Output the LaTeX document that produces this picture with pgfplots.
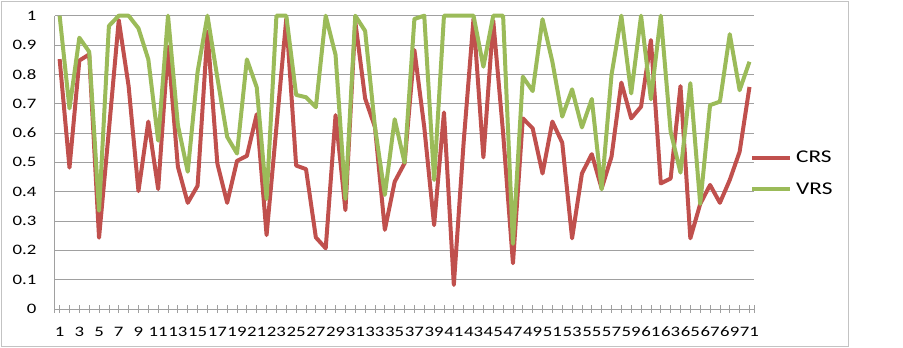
\documentclass[border=0pt]{standalone}
\usepackage{pgfplots}
\pgfplotsset{compat=1.18}
\usepackage{pgfplotstable}
\usepackage{fontspec}
\setmainfont{Carlito}[FakeStretch=1.3]
\definecolor{crs}{HTML}{C0504D}
\definecolor{vrs}{HTML}{9BBB59}
\definecolor{gridc}{RGB}{160,160,160}
\definecolor{framec}{RGB}{195,195,195}

\pgfplotstableread{
x y
1 0.852
2 0.482
3 0.847
4 0.868
5 0.243
6 0.61
7 0.985
8 0.76
9 0.402
10 0.639
11 0.409
12 0.894
13 0.485
14 0.362
15 0.42
16 0.945
17 0.497
18 0.362
19 0.505
20 0.522
21 0.664
22 0.252
23 0.62
24 0.99
25 0.489
26 0.477
27 0.244
28 0.207
29 0.661
30 0.337
31 0.98
32 0.718
33 0.62
34 0.27
35 0.434
36 0.497
37 0.883
38 0.62
39 0.286
40 0.67
41 0.082
42 0.57
43 0.99
44 0.517
45 0.983
46 0.6
47 0.156
48 0.65
49 0.616
50 0.462
51 0.639
52 0.567
53 0.241
54 0.462
55 0.528
56 0.411
57 0.519
58 0.772
59 0.65
60 0.69
61 0.917
62 0.428
63 0.445
64 0.76
65 0.241
66 0.358
67 0.423
68 0.362
69 0.44
70 0.536
71 0.757
}\crsdata

\pgfplotstableread{
x y
1 1.0
2 0.684
3 0.925
4 0.877
5 0.335
6 0.965
7 1.0
8 1.0
9 0.957
10 0.851
11 0.574
12 1.0
13 0.627
14 0.468
15 0.809
16 1.0
17 0.79
18 0.587
19 0.53
20 0.851
21 0.756
22 0.375
23 1.0
24 1.0
25 0.73
26 0.722
27 0.688
28 1.0
29 0.866
30 0.375
31 1.0
32 0.948
33 0.62
34 0.389
35 0.647
36 0.499
37 0.989
38 1.0
39 0.44
40 1.0
41 1.0
42 1.0
43 1.0
44 0.826
45 1.0
46 1.0
47 0.222
48 0.792
49 0.743
50 0.988
51 0.843
52 0.656
53 0.749
54 0.619
55 0.716
56 0.408
57 0.798
58 1.0
59 0.735
60 1.0
61 0.715
62 1.0
63 0.605
64 0.465
65 0.77
66 0.358
67 0.695
68 0.707
69 0.937
70 0.746
71 0.843
}\vrsdata

\begin{document}
\begin{tikzpicture}
\useasboundingbox (0bp,0bp) rectangle (903bp,348bp);
\draw[framec, line width=1bp] (1.5bp,1.5bp) rectangle (848.5bp,346.5bp);
\begin{axis}[
  at={(54.7bp,39bp)}, anchor=south west,
  scale only axis, width=699.7bp, height=293.3bp,
  xmin=0.5, xmax=71.5, ymin=0, ymax=1,
  clip=false,
  axis x line*=bottom, axis y line*=left,
  axis line style={gridc, line width=0.8bp, -},
  ytick={0,0.1,0.2,0.3,0.4,0.5,0.6,0.7,0.8,0.9,1},
  yticklabels={0,0.1,0.2,0.3,0.4,0.5,0.6,0.7,0.8,0.9,1},
  ymajorgrids, grid style={gridc, line width=0.8bp},
  xtick={1,3,...,71},
  xticklabels={1,3,5,7,9,11,13,15,17,19,21,23,25,27,29,31,33,35,37,39,41,43,45,47,49,51,53,55,57,59,61,63,65,67,69,71},
  minor xtick={0.5,2,4,...,70,71.5},
  tick align=inside,
  major tick length=8bp, minor tick length=8bp,
  tick style={gridc, line width=0.8bp, yshift=-4bp},
  ytick style={draw=none},
  /pgf/number format/assume math mode=true,
  tick label style={font=\fontsize{14.5}{17}\selectfont, text=black},
  yticklabel style={anchor=east, inner sep=0pt, xshift=-18bp},
  xticklabel style={anchor=center, inner sep=0pt, yshift=-23bp},
  legend style={at={(0.9937,0.462)}, anchor=west, draw=none, fill=none,
    inner sep=0pt, font=\fontsize{18}{20}\selectfont, row sep=18bp,
    nodes={inner sep=0pt}, /tikz/every odd column/.style={column sep=4bp}},
  legend cell align=left,
  legend image code/.code={\draw[#1, line cap=butt] (0bp,0bp) -- (38bp,0bp);},
]
\addplot[crs, line width=4bp, line join=round] table[x=x,y=y] {\crsdata};
\addlegendentry{CRS}
\addplot[vrs, line width=4bp, line join=round] table[x=x,y=y] {\vrsdata};
\addlegendentry{VRS}
\end{axis}
\end{tikzpicture}
\end{document}
